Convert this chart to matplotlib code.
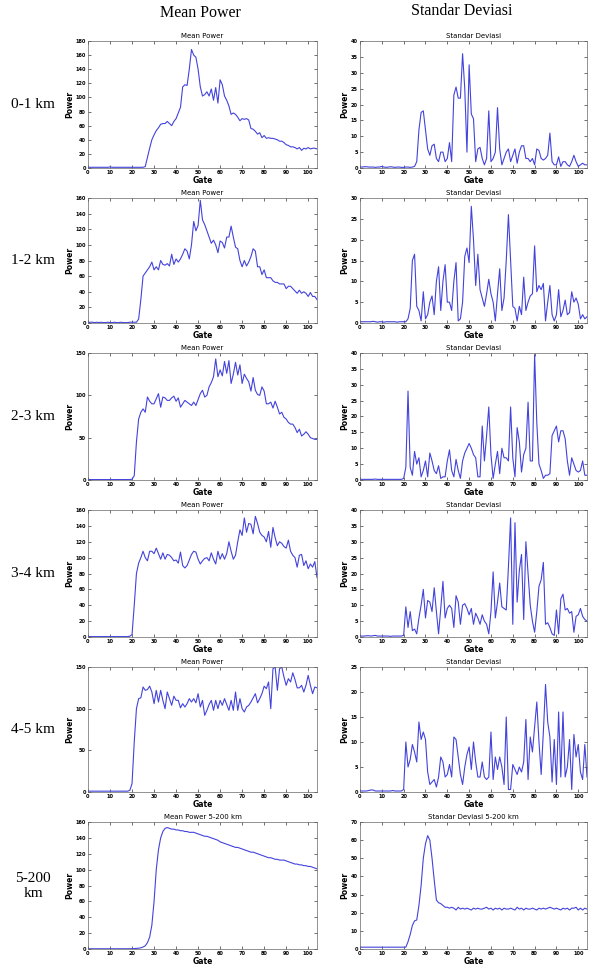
import numpy as np
import matplotlib
matplotlib.use('Agg')
import matplotlib.pyplot as plt

# gate axis (0..104)
gate = np.arange(0, 105)

# ---- mean power per range ----
mean_0_1 = [1, 1, 1, 1, 1, 1, 1, 1, 1, 1,
            1.5, 1, 1, 1, 1, 1, 1, 1, 1, 1,
            1, 1, 1, 1, 1, 1, 2, 15, 28, 40,
            47, 53, 57, 62, 63, 63, 66, 63, 60, 66,
            70, 78, 86, 115, 118, 117, 140, 168, 160, 157,
            140, 115, 102, 104, 108, 102, 112, 96, 114, 92,
            125, 118, 102, 96, 88, 76, 78, 76, 72, 67,
            70, 69, 70, 68, 56, 55, 52, 48, 50, 43,
            46, 42, 43, 42, 42, 41, 40, 38, 38, 36,
            33, 32, 30, 30, 29, 27, 29, 25, 28, 27,
            29, 27, 28, 28, 27]

mean_1_2 = [0.5, 1, 1, 0.5, 1, 0.5, 1, 0.5, 0.5, 1,
            0.5, 0.5, 1, 0.5, 0.5, 1, 0.5, 0.5, 0.5, 1,
            1, 1, 1, 5, 30, 60, 64, 68, 72, 78,
            68, 72, 68, 80, 75, 74, 76, 73, 88, 75,
            82, 78, 82, 88, 95, 92, 82, 100, 130, 118,
            125, 157, 132, 126, 118, 110, 102, 106, 100, 90,
            105, 103, 96, 110, 110, 124, 110, 97, 95, 80,
            72, 80, 73, 78, 85, 95, 92, 72, 72, 62,
            68, 58, 58, 58, 54, 52, 52, 50, 50, 50,
            44, 47, 47, 44, 41, 38, 42, 38, 40, 38,
            34, 39, 34, 34, 30]

mean_2_3 = [0.5, 0.5, 0.5, 0.5, 0.5, 0.5, 0.5, 0.5, 0.5, 0.5,
            0.5, 0.5, 0.5, 0.5, 0.5, 0.5, 0.5, 0.5, 0.5, 0.5,
            1, 5, 45, 72, 80, 84, 80, 98, 93, 90,
            90, 96, 102, 86, 98, 97, 94, 94, 97, 99,
            93, 97, 86, 90, 94, 92, 90, 88, 92, 88,
            95, 102, 106, 98, 100, 110, 115, 122, 143, 122,
            130, 123, 140, 126, 141, 114, 125, 139, 124, 136,
            114, 125, 120, 116, 105, 121, 106, 101, 100, 110,
            105, 90, 90, 92, 85, 93, 86, 78, 80, 74,
            72, 68, 66, 66, 62, 56, 60, 52, 54, 57,
            54, 50, 49, 48, 48]

mean_3_4 = [0.5, 0.5, 0.5, 0.5, 0.5, 0.5, 0.5, 0.5, 0.5, 0.5,
            0.5, 0.5, 0.5, 0.5, 0.5, 0.5, 0.5, 0.5, 0.5, 1,
            3, 40, 80, 93, 100, 108, 100, 96, 108, 108,
            105, 112, 105, 98, 106, 98, 104, 103, 100, 96,
            97, 93, 107, 90, 87, 90, 97, 104, 108, 107,
            98, 92, 96, 99, 100, 96, 106, 98, 92, 108,
            98, 105, 98, 105, 120, 108, 98, 103, 120, 135,
            128, 150, 132, 143, 142, 130, 152, 143, 132, 128,
            126, 120, 133, 113, 138, 125, 115, 120, 118, 114,
            112, 122, 108, 103, 100, 88, 103, 104, 90, 96,
            86, 92, 88, 95, 75]

mean_4_5 = [1, 1, 1, 1, 1, 1, 1, 1, 1, 1,
            1, 1, 1, 1, 1, 1, 1, 1, 1, 2,
            10, 60, 100, 112, 113, 126, 122, 123, 127, 120,
            106, 122, 108, 122, 110, 100, 120, 112, 104, 115,
            110, 110, 101, 106, 102, 106, 112, 108, 112, 107,
            118, 102, 110, 92, 98, 105, 110, 98, 110, 100,
            110, 104, 112, 105, 98, 110, 98, 120, 98, 112,
            100, 96, 102, 104, 108, 113, 118, 107, 112, 118,
            127, 124, 132, 100, 148, 150, 122, 148, 150, 138,
            128, 136, 132, 143, 135, 125, 125, 128, 120, 128,
            140, 128, 118, 126, 125]

mean_5_200 = [0.3, 0.3, 0.3, 0.3, 0.3, 0.3, 0.3, 0.3, 0.3, 0.3,
              0.3, 0.3, 0.3, 0.3, 0.3, 0.3, 0.3, 0.3, 0.3, 0.3,
              0.4, 0.5, 0.8, 1, 1.5, 2.5, 4, 8, 15, 30,
              60, 100, 125, 140, 148, 152, 153, 152, 151, 151,
              150, 150, 149, 149, 148, 148, 147, 147, 147, 146,
              145, 144, 143, 142, 142, 141, 140, 139, 138, 137,
              135, 134, 133, 132, 131, 130, 129, 128, 128, 127,
              126, 125, 124, 123, 122, 122, 121, 120, 119, 118,
              117, 116, 115, 115, 114, 113, 113, 112, 112, 112,
              111, 110, 109, 108, 107, 107, 106, 106, 105, 105,
              104, 104, 103, 102, 101]

# ---- standard deviation per range ----
std_0_1 = [0.3, 0.3, 0.4, 0.4, 0.3, 0.3, 0.3, 0.2, 0.3, 0.3,
           0.5, 0.3, 0.2, 0.3, 0.4, 0.3, 0.2, 0.3, 0.3, 0.2,
           0.2, 0.3, 0.3, 0.2, 0.3, 0.5, 2, 12, 17.5, 18,
           12, 6, 4, 7, 7.5, 3, 2, 5, 5, 2,
           3, 8, 2, 23, 25.5, 22, 22, 36, 25, 5,
           32.5, 17, 15.5, 2, 6, 6.5, 3, 1, 3, 18,
           2, 3, 5, 19, 6, 1, 3, 5, 6, 2,
           4, 6, 1.5, 5, 7, 7, 3, 3, 2, 3,
           1, 6, 5.5, 3, 2.5, 3, 4, 11, 2, 1,
           1, 3.5, 0.5, 2, 2, 1, 0.5, 2, 4, 2,
           0.5, 1, 1.5, 1, 1]

std_1_2 = [0.3, 0.3, 0.3, 0.3, 0.3, 0.3, 0.4, 0.3, 0.2, 0.3,
           0.3, 0.2, 0.3, 0.3, 0.3, 0.3, 0.3, 0.2, 0.3, 0.3,
           0.3, 0.3, 1, 3.5, 15, 16.5, 4, 3, 0.5, 7.5,
           1, 2, 5, 6.5, 2, 10, 13.5, 3, 10, 14,
           5, 5, 3, 10, 14.5, 0.5, 1, 5, 16, 18,
           14.5, 28, 20, 9, 16.5, 8, 6, 4, 7, 10.5,
           7, 5, 0.5, 7, 13, 3, 6, 15, 26, 15,
           4, 3.5, 0.5, 4, 2, 11, 3, 5, 6.5, 7,
           18.5, 7.5, 9, 8, 9.5, 0.5, 5, 9, 2, 0.5,
           2, 8, 1.5, 3, 5.5, 2, 2.5, 7.5, 5, 6,
           4.5, 1, 2, 1, 1.5]

std_2_3 = [0.2, 0.2, 0.2, 0.2, 0.2, 0.2, 0.2, 0.3, 0.2, 0.2,
           0.2, 0.2, 0.2, 0.2, 0.2, 0.2, 0.2, 0.2, 0.2, 0.2,
           0.5, 4, 28, 4, 1.5, 9, 5, 7, 1, 3,
           6, 1, 8.5, 6, 3, 2, 4.5, 0.5, 1, 1,
           6, 9.5, 3, 1, 6.5, 3, 0.5, 6, 8.5, 10,
           11.5, 10, 8, 7, 1, 1, 17, 6, 14, 23,
           8, 0.5, 5, 9, 2, 10, 7, 7, 6, 23,
           7, 1, 16.5, 12, 2.5, 8, 10, 24.5, 6, 6,
           39.5, 18, 5, 3, 0.5, 1.5, 1.5, 2, 14, 15.5,
           17, 12, 15.5, 15.5, 13, 6, 1.5, 7, 5, 3,
           2.5, 3, 6, 1.5, 1.5]

std_3_4 = [0.3, 0.3, 0.3, 0.4, 0.4, 0.3, 0.4, 0.5, 0.3, 0.3,
           0.3, 0.3, 0.3, 0.3, 0.2, 0.3, 0.3, 0.3, 0.3, 0.3,
           0.5, 9.5, 3, 8, 2, 2.5, 1, 6, 10, 15,
           6, 11.5, 11, 8, 15.5, 8, 1, 9, 17.5, 6,
           9, 10, 9, 3, 13, 11, 4, 10, 10.5, 9,
           7, 9, 4, 7.5, 6, 4, 7, 5, 4, 1,
           8, 20.5, 6, 11, 17, 9.5, 9, 8.5, 22, 37.5,
           4, 36, 11, 21, 26, 5.5, 30, 20, 10, 5,
           1.5, 8, 16, 18, 23.5, 4, 4.5, 3, 1, 0.5,
           8.5, 1, 12, 13.5, 8.5, 9, 7.5, 8, 1.5, 6.5,
           7, 9, 6.5, 5.5, 5]

std_4_5 = [0.2, 0.2, 0.2, 0.2, 0.3, 0.4, 0.4, 0.2, 0.2, 0.2,
           0.2, 0.2, 0.2, 0.2, 0.2, 0.3, 0.2, 0.2, 0.2, 0.2,
           0.5, 10, 5, 6.5, 9.5, 8, 6, 14, 10.5, 12,
           10.5, 4, 1.5, 2, 2.5, 1, 3, 7, 6, 3,
           3.5, 5.5, 3, 11, 10.5, 7, 3.5, 1.5, 5, 7.5,
           9, 4.5, 10, 6, 3, 3, 6, 3, 2.5, 3,
           12, 2.5, 7, 4.5, 7, 5, 1.5, 15, 0.5, 0.5,
           5.5, 4.5, 3.5, 5, 4, 6, 14.5, 2.5, 11, 8,
           13, 18, 10, 3.5, 12, 21.5, 14, 11, 2, 10.5,
           1.5, 16, 3, 16, 3, 5, 10.5, 0.5, 11.5, 7,
           9.5, 4, 2.5, 9.5, 3]

std_5_200 = [1, 1, 1, 1, 1, 1, 1, 1, 1, 1,
             1, 1, 1, 1, 1, 1, 1, 1, 1, 1,
             1, 1, 4, 8, 13, 15.5, 16, 24, 35, 50,
             58, 62.5, 60, 50, 38, 27, 25.5, 25, 24, 23,
             23, 22.5, 23, 22.5, 21.5, 23, 22, 22.5, 22, 22.5,
             22, 21.5, 22.5, 22, 22.5, 22, 22, 22.5, 23, 22,
             22.5, 21.5, 22.5, 22, 22.5, 21.5, 22.5, 22, 22, 22.5,
             22, 21.5, 23, 22, 22.5, 21.5, 22.5, 22, 22, 22.5,
             22, 21.5, 22.5, 22, 22.5, 22, 22.5, 23, 22.5, 22,
             22.5, 22, 21.5, 22.5, 22, 22.5, 21.5, 22.5, 22.5, 23,
             21.5, 22.5, 21.5, 22.5, 22]

row_labels = ['0-1 km', '1-2 km', '2-3 km', '3-4 km', '4-5 km', '5-200\nkm']
mean_series = [mean_0_1, mean_1_2, mean_2_3, mean_3_4, mean_4_5, mean_5_200]
std_series = [std_0_1, std_1_2, std_2_3, std_3_4, std_4_5, std_5_200]
mean_titles = ['Mean Power'] * 5 + ['Mean Power 5-200 km']
std_titles = ['Standar Deviasi'] * 5 + ['Standar Deviasi 5-200 km']
mean_ylim = [(180, 20), (160, 20), (150, 50), (160, 20), (150, 50), (160, 20)]
std_ylim = [(40, 5), (30, 5), (40, 5), (40, 5), (25, 5), (70, 10)]

W, H = 601, 980
fig = plt.figure(figsize=(W / 100, H / 100), dpi=100)

# row extents in pixels (top, bottom)
rows_px = [(41, 168), (198, 323), (353, 480), (510, 637), (667, 792), (822, 949)]
left_px = (88, 317)
right_px = (360, 587)
line_col = '#4343dc'


def setup(ax, ymax, ystep, title):
    ax.set_xlim(0, 104)
    ax.set_ylim(0, ymax)
    ax.set_xticks(np.arange(0, 101, 10))
    ax.set_yticks(np.arange(0, ymax + 0.1, ystep))
    ax.tick_params(direction='in', length=2, width=0.4, labelsize=3.6,
                   top=True, right=True, pad=1.5)
    for lab in ax.get_xticklabels() + ax.get_yticklabels():
        lab.set_fontweight('bold')
    for s in ax.spines.values():
        s.set_linewidth(0.5)
        s.set_color('#666666')
    ax.set_title(title, fontsize=5, pad=2)
    ax.set_xlabel('Gate', fontsize=5.5, fontweight='bold', labelpad=0.5)
    ax.set_ylabel('Power', fontsize=5.5, fontweight='bold', labelpad=1)


for i in range(6):
    top, bot = rows_px[i]
    b = 1 - bot / H
    h = (bot - top) / H
    axl = fig.add_axes([left_px[0] / W, b, (left_px[1] - left_px[0]) / W, h])
    axl.plot(gate, mean_series[i], color=line_col, lw=0.8)
    setup(axl, mean_ylim[i][0], mean_ylim[i][1], mean_titles[i])

    axr = fig.add_axes([right_px[0] / W, b, (right_px[1] - right_px[0]) / W, h])
    axr.plot(gate, std_series[i], color=line_col, lw=0.8)
    setup(axr, std_ylim[i][0], std_ylim[i][1], std_titles[i])

    fig.text(33 / W, 1 - ((top + bot) / 2) / H, row_labels[i], ha='center', va='center',
             family='Liberation Serif', fontsize=11)

fig.text(200 / W, 1 - 13 / H, 'Mean Power', ha='center', va='center',
         family='Liberation Serif', fontsize=11.5)
fig.text(462 / W, 1 - 11 / H, 'Standar Deviasi', ha='center', va='center',
         family='Liberation Serif', fontsize=11.5)

fig.savefig('out.png', dpi=100)
